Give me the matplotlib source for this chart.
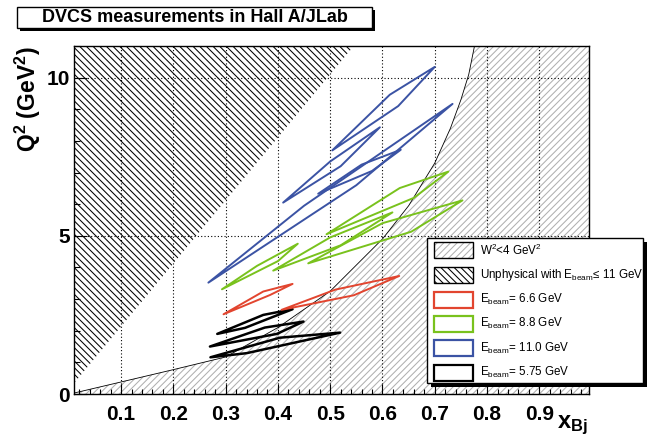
import matplotlib
matplotlib.use("Agg")
import matplotlib.pyplot as plt
from matplotlib.patches import Polygon, Rectangle
from matplotlib.ticker import FixedLocator, MultipleLocator

plt.rcParams['font.family'] = ['Liberation Sans', 'DejaVu Sans']
plt.rcParams['font.weight'] = 'bold'
plt.rcParams['mathtext.default'] = 'regular'
plt.rcParams['hatch.linewidth'] = 0.75

# W^2 = 4 GeV^2 curve
w2_x = [0.01, 0.1, 0.2, 0.3, 0.4, 0.5, 0.6, 0.65, 0.7, 0.73, 0.75, 0.765, 0.776]
w2_q2 = [0.03, 0.38, 0.77, 1.17, 2.1, 3.25, 4.9, 5.95, 7.3, 8.4, 9.3, 10.1, 11.0]

# edge of the unphysical region for E_beam <= 11 GeV
unphys_x = [0.01, 0.545]
unphys_q2 = [0.34, 11.0]

# kinematic settings, corners (x_Bj, Q^2) of each cell
bins_575 = [
    [(0.284, 1.90), (0.372, 2.50), (0.428, 2.68), (0.337, 2.09)],
    [(0.270, 1.50), (0.375, 2.10), (0.449, 2.29), (0.398, 1.90)],
    [(0.271, 1.16), (0.404, 1.78), (0.519, 1.94), (0.340, 1.29)],
]
bins_66 = [
    [(0.296, 2.52), (0.372, 3.24), (0.428, 3.48), (0.385, 3.13)],
    [(0.407, 2.66), (0.510, 3.30), (0.632, 3.73), (0.545, 3.12)],
]
bins_88 = [
    [(0.293, 3.31), (0.360, 4.05), (0.438, 4.75), (0.400, 4.20)],
    [(0.391, 3.90), (0.500, 4.95), (0.619, 5.74), (0.520, 4.70)],
    [(0.493, 5.05), (0.633, 6.51), (0.726, 7.03), (0.660, 6.20)],
    [(0.458, 4.13), (0.600, 5.40), (0.753, 6.12), (0.655, 5.13)],
]
bins_110 = [
    [(0.504, 7.70), (0.614, 9.46), (0.700, 10.34), (0.630, 9.10)],
    [(0.410, 6.05), (0.500, 7.35), (0.595, 8.43), (0.520, 7.20)],
    [(0.477, 6.33), (0.560, 7.25), (0.635, 7.72), (0.580, 7.05)],
    [(0.267, 3.52), (0.450, 5.95), (0.734, 9.17), (0.550, 6.60)],
]

legend_labels = [r'W$^2$<4 GeV$^2$',
                 r'Unphysical with E$_{beam}$≤ 11 GeV',
                 r'E$_{beam}$= 6.6 GeV',
                 r'E$_{beam}$= 8.8 GeV',
                 r'E$_{beam}$= 11.0 GeV',
                 r'E$_{beam}$= 5.75 GeV']

xmin, xmax = 0.01, 0.995
ymin, ymax = 0.0, 11.0

c_red = '#e2452f'
c_green = '#79c21d'
c_blue = '#3b53a4'
c_black = 'black'

W, H = 654, 438
fig = plt.figure(figsize=(W / 100, H / 100), dpi=100)
ax = fig.add_axes([74 / W, 1 - 394 / H, (589 - 74) / W, (394 - 46) / H])

# W^2 < 4 region
w2_poly = list(zip(w2_x, w2_q2)) + [(xmax, ymax), (xmax, ymin), (xmin, ymin)]
ax.add_patch(Polygon(w2_poly, closed=True, facecolor='none', edgecolor='#b0b0b0',
                     hatch='/////', linewidth=0, zorder=0.5))
ax.plot(w2_x, w2_q2, color='black', lw=0.6, zorder=0.6)

# unphysical region
un_poly = list(zip(unphys_x, unphys_q2)) + [(xmin, ymax)]
ax.add_patch(Polygon(un_poly, closed=True, facecolor='none', edgecolor='black',
                     hatch='\\' * 5, linewidth=0, zorder=0.5))

for bins, col, lw in [(bins_575, c_black, 1.8), (bins_66, c_red, 1.4),
                      (bins_88, c_green, 1.4), (bins_110, c_blue, 1.4)]:
    for b in bins:
        ax.add_patch(Polygon(b, closed=True, facecolor='none', edgecolor=col,
                             linewidth=lw, joinstyle='round', zorder=3))

ax.set_xlim(xmin, xmax)
ax.set_ylim(ymin, ymax)
ax.xaxis.set_major_locator(FixedLocator([0.1, 0.2, 0.3, 0.4, 0.5, 0.6, 0.7, 0.8, 0.9]))
ax.xaxis.set_minor_locator(MultipleLocator(0.02))
ax.yaxis.set_major_locator(MultipleLocator(5))
ax.yaxis.set_minor_locator(MultipleLocator(1))
ax.xaxis.set_major_formatter(plt.FuncFormatter(lambda v, p: '%.1f' % v))
ax.yaxis.set_major_formatter(plt.FuncFormatter(lambda v, p: '%d' % v))
ax.tick_params(axis='x', which='major', direction='in', length=7, width=0.8, labelsize=15, pad=8)
ax.tick_params(axis='x', which='minor', direction='in', length=3.5, width=0.8)
ax.tick_params(axis='y', which='major', direction='in', length=9, width=0.8, labelsize=15, pad=3)
ax.tick_params(axis='y', which='minor', direction='in', length=4.5, width=0.8)
ax.grid(True, which='major', color='black', linestyle=(0, (1, 2)), linewidth=0.8)
for s in ax.spines.values():
    s.set_linewidth(1.0)

fig.text(28 / W, 1 - 46 / H, r'Q$^2$ (GeV$^2$)', rotation=90, ha='center', va='top',
         fontsize=16.5, fontweight='bold')
fig.text(557 / W, 1 - 428 / H, r'x$_{Bj}$', ha='left', va='baseline',
         fontsize=17, fontweight='bold')


def box(x0, y0, x1, y1, **kw):
    # rectangle given in pixel corners of the figure
    r = Rectangle((x0 / W, 1 - y1 / H), (x1 - x0) / W, (y1 - y0) / H,
                  transform=fig.transFigure, **kw)
    fig.patches.append(r)
    return r


# title pave with shadow
box(20, 10, 375, 31, facecolor='black', edgecolor='none')
box(17, 7, 372, 28, facecolor='white', edgecolor='black', linewidth=1)
fig.text(194.5 / W, 1 - 17.5 / H, 'DVCS measurements in Hall A/JLab', ha='center',
         va='center', fontsize=13, fontweight='bold')

# legend with shadow
box(431, 242, 647, 387, facecolor='black', edgecolor='none')
box(427, 238, 643, 383, facecolor='white', edgecolor='black', linewidth=1)
entry_y = [250.3, 275.0, 299.5, 323.8, 348.3, 372.5]
handles = [('/////', '#b0b0b0', 'black'), ('\\' * 5, 'black', 'black'),
           (None, None, c_red), (None, None, c_green), (None, None, c_blue),
           (None, None, c_black)]
for yy, (hatch, hcol, ecol), lab in zip(entry_y, handles, legend_labels):
    if hatch:
        box(434, yy - 8, 473, yy + 8, facecolor='white', edgecolor=hcol,
            hatch=hatch, linewidth=0)
        box(434, yy - 8, 473, yy + 8, facecolor='none', edgecolor=ecol, linewidth=1)
    else:
        box(434, yy - 8, 473, yy + 8, facecolor='white', edgecolor=ecol, linewidth=1.6)
    fig.text(480 / W, 1 - yy / H, lab, ha='left', va='center', fontsize=8.4,
             fontweight='normal')

fig.savefig('out.png', dpi=100)
